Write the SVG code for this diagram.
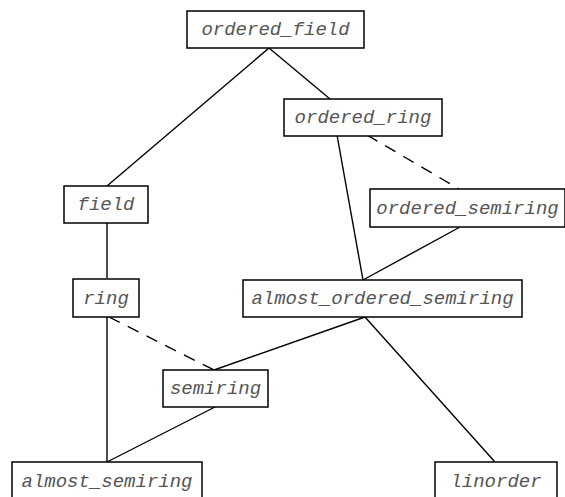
<svg xmlns="http://www.w3.org/2000/svg" width="565" height="497" viewBox="0 0 565 497">
<style>
.n rect{fill:#fff;stroke:#000;stroke-width:1.5}
text{font-family:"Liberation Mono","DejaVu Sans Mono",monospace;font-style:italic;font-size:19px;fill:#555;text-anchor:middle}
.e line{stroke:#000;stroke-width:1.4;fill:none}
.d{stroke-dasharray:12,9}
</style>
<rect x="0" y="0" width="565" height="497" fill="#fff"/>
<g class="e" id="connectors">
<line x1="269" y1="48" x2="107" y2="186"/>
<line x1="269" y1="48" x2="330" y2="99"/>
<line x1="107" y1="223" x2="107" y2="278"/>
<line x1="337" y1="135" x2="363" y2="280"/>
<line class="d" x1="367" y1="135" x2="459" y2="189"/>
<line x1="460" y1="227" x2="363" y2="280"/>
<line class="d" x1="109" y1="317" x2="214" y2="370"/>
<line x1="107" y1="317" x2="107" y2="462"/>
<line x1="365" y1="317" x2="214" y2="370"/>
<line x1="365" y1="317" x2="495" y2="462"/>
<line x1="215" y1="407" x2="107" y2="462"/>
</g>
<g class="n" id="ordered_field"><rect x="187" y="11" width="177" height="37"/><text x="275.5" y="35">ordered_field</text></g>
<g class="n" id="ordered_ring"><rect x="284" y="99" width="158" height="37"/><text x="363" y="123">ordered_ring</text></g>
<g class="n" id="ordered_semiring"><rect x="370" y="189" width="195" height="38"/><text x="467.5" y="214">ordered_semiring</text></g>
<g class="n" id="field"><rect x="64" y="186" width="84" height="37"/><text x="106" y="210">field</text></g>
<g class="n" id="ring"><rect x="73" y="279" width="66" height="38"/><text x="106" y="304">ring</text></g>
<g class="n" id="almost_ordered_semiring"><rect x="243" y="280" width="279" height="37"/><text x="382.5" y="304">almost_ordered_semiring</text></g>
<g class="n" id="semiring"><rect x="163" y="370" width="105" height="37"/><text x="215.5" y="394">semiring</text></g>
<g class="n" id="almost_semiring"><rect x="12" y="462" width="190" height="40"/><text x="107" y="487">almost_semiring</text></g>
<g class="n" id="linorder"><rect x="435" y="462" width="122" height="40"/><text x="496" y="487">linorder</text></g>
</svg>
